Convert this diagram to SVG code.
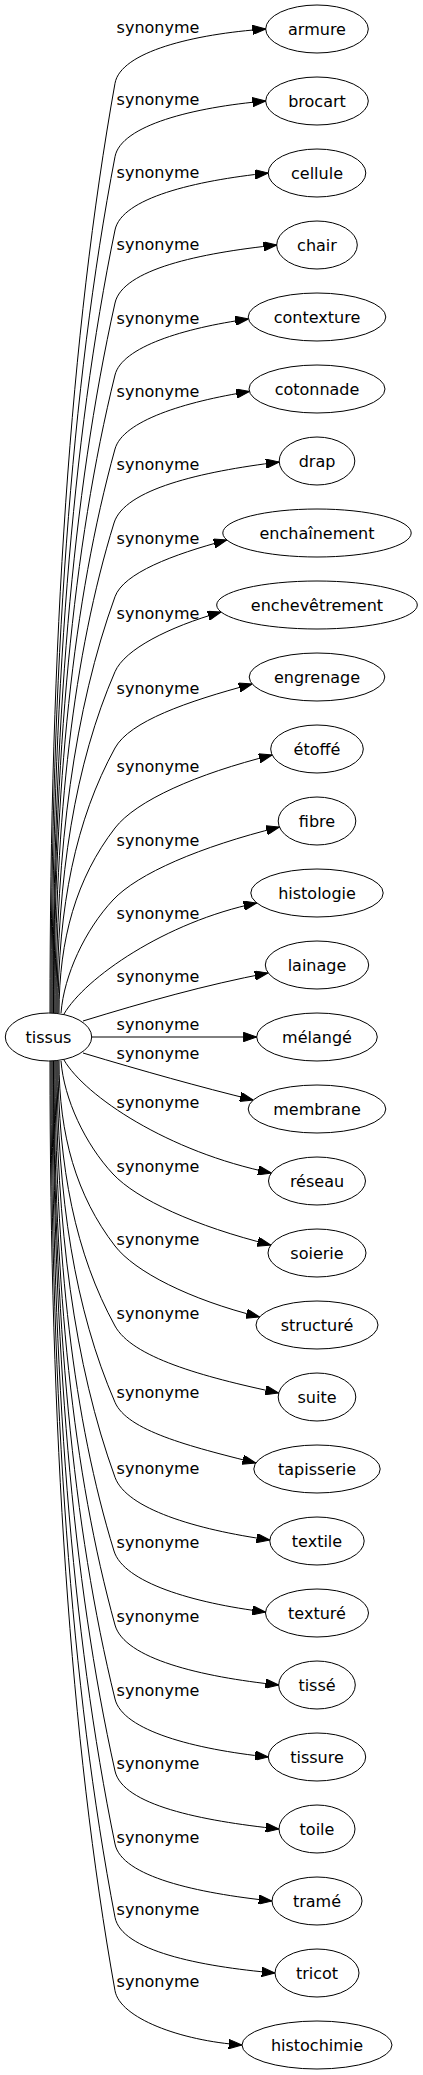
<svg xmlns="http://www.w3.org/2000/svg" width="423" height="2075" viewBox="0 0 423 2075">
<style>
.n ellipse{fill:none;stroke:#000;stroke-width:1}
text{font-family:"DejaVu Sans","Liberation Sans",sans-serif;font-size:16px;fill:#000;text-anchor:middle}
.e path{fill:none;stroke:#000;stroke-width:1;marker-end:url(#ah)}
</style>
<defs>
<marker id="ah" viewBox="0 0 13.3 9.4" refX="13.3" refY="4.7" markerWidth="13.3" markerHeight="9.4" markerUnits="userSpaceOnUse" orient="auto">
<polygon points="0,0 13.3,4.7 0,9.4" fill="#000" stroke="#000" stroke-width="1"/>
</marker>
</defs>
<rect width="423" height="2075" fill="#fff"/>
<g id="edges" class="e">
<path d="M50,1013 C50,641.1 70.2,334.3 115,83.3 C120.6,51.8 193.8,34 265.7,29"/>
<path d="M51,1013 C51,670.5 70.8,387.9 115,156.7 C121,125.2 193.7,107.3 265.7,101"/>
<path d="M52,1013 C52,699.8 71.5,441.4 115,230 C121.6,198 195,180.7 268.2,173"/>
<path d="M53,1013 C53,729 72.2,494.7 115,303 C122.5,269.4 199.8,253.1 276.7,245"/>
<path d="M53.5,1013 C53.5,757.8 72.6,547.3 115,375 C121.9,346.9 183.9,328.1 248.4,319"/>
<path d="M54,1013 C54,787.4 72.9,601.3 115,449 C122.8,420.9 184.4,401.8 249.4,391.5"/>
<path d="M55,1013 C55,817 73.3,655.3 114,523 C124.3,489.3 200.6,471.7 279.2,462"/>
<path d="M56,1013 C56,846.5 74.3,709.1 115,596.7 C123.6,573.1 172.4,554.6 226.9,540"/>
<path d="M57,1013 C57,876.5 75,763.9 115,671.7 C124.7,649.4 168.4,627.1 221.1,612"/>
<path d="M58,1013 C58,907 75.7,819.6 115,748 C129.6,721.5 186.3,701.6 252.1,684"/>
<path d="M59,1013 C59,939 76.4,878 115,828 C136.2,800.6 196.5,773.9 272.2,755"/>
<path d="M61,1013 C64,975 85,930 113,900 C137.8,873.4 200,846.8 279.4,827"/>
<path d="M64,1014 C85,978 165,922 256.8,903"/>
<path d="M83,1021 C145,1002 205,985 268,973"/>
<path d="M91.7,1037 L256.7,1037"/>
<path d="M83,1053 C143,1071 200,1087 253.2,1100"/>
<path d="M64,1060 C85,1096 168,1152 271.3,1173"/>
<path d="M61,1061 C64,1099 85,1144 113,1174 C136.6,1199.3 195.2,1226.2 270.8,1245"/>
<path d="M59,1061 C59,1135 76.4,1196 115,1246 C134.7,1271.5 189.2,1299.5 259.5,1317"/>
<path d="M58,1061 C58,1167 75.7,1254.4 115,1326 C132,1357 200.8,1376.5 278.7,1393"/>
<path d="M57,1061 C57,1197.5 75,1310.1 115,1402.3 C127.2,1430.5 188.8,1446.3 255.8,1463"/>
<path d="M56,1061 C56,1227.5 74.3,1364.9 115,1477.3 C126.4,1508.7 195.3,1529.5 269.8,1540"/>
<path d="M55,1061 C55,1257 73.3,1418.7 114,1551 C123.6,1582.3 192.6,1603 265.6,1612"/>
<path d="M54,1061 C54,1286.6 72.9,1472.7 115,1625 C124.3,1658.6 200.7,1676.8 278.7,1685"/>
<path d="M53.5,1061 C53.5,1316.2 72.6,1526.7 115,1699 C122.8,1730.8 194.9,1749.3 268.3,1757"/>
<path d="M53,1061 C53,1345 72.2,1579.3 115,1771 C122.6,1805 201.1,1820.8 279,1829"/>
<path d="M52,1061 C52,1374.2 71.5,1632.6 115,1844 C121.7,1876.7 197.2,1893.1 272,1901"/>
<path d="M51,1061 C51,1403.5 70.8,1686.1 115,1917.3 C121.4,1950.6 199.1,1966.4 275,1973"/>
<path d="M50,1061 C50,1432.9 70.2,1739.7 115,1990.7 C119.9,2017.9 180,2040.7 242,2045"/>
<g id="edge-labels">
<text x="158" y="33.4">synonyme</text>
<text x="158" y="105.1">synonyme</text>
<text x="158" y="177.7">synonyme</text>
<text x="158" y="250.4">synonyme</text>
<text x="158" y="323.7">synonyme</text>
<text x="158" y="397.1">synonyme</text>
<text x="158" y="470.4">synonyme</text>
<text x="158" y="543.7">synonyme</text>
<text x="158" y="618.7">synonyme</text>
<text x="158" y="694.4">synonyme</text>
<text x="158" y="771.7">synonyme</text>
<text x="158" y="846.1">synonyme</text>
<text x="158" y="919.4">synonyme</text>
<text x="158" y="982.1">synonyme</text>
<text x="158" y="1030.4">synonyme</text>
<text x="158" y="1058.7">synonyme</text>
<text x="158" y="1107.7">synonyme</text>
<text x="158" y="1171.7">synonyme</text>
<text x="158" y="1245.1">synonyme</text>
<text x="158" y="1319.4">synonyme</text>
<text x="158" y="1397.7">synonyme</text>
<text x="158" y="1473.7">synonyme</text>
<text x="158" y="1547.7">synonyme</text>
<text x="158" y="1621.7">synonyme</text>
<text x="158" y="1696.1">synonyme</text>
<text x="158" y="1769.4">synonyme</text>
<text x="158" y="1842.7">synonyme</text>
<text x="158" y="1915.4">synonyme</text>
<text x="158" y="1987.1">synonyme</text>
</g>
</g>
<g id="tissus" class="n"><ellipse cx="48.5" cy="1037" rx="43.2" ry="24"/><text x="48.5" y="1042.6">tissus</text></g>
<g id="armure" class="n"><ellipse cx="317" cy="29" rx="51.3" ry="24"/><text x="317" y="34.6">armure</text></g>
<g id="brocart" class="n"><ellipse cx="317" cy="101" rx="51.3" ry="24"/><text x="317" y="106.6">brocart</text></g>
<g id="cellule" class="n"><ellipse cx="317" cy="173" rx="48.8" ry="24"/><text x="317" y="178.6">cellule</text></g>
<g id="chair" class="n"><ellipse cx="317" cy="245" rx="40.3" ry="24"/><text x="317" y="250.6">chair</text></g>
<g id="contexture" class="n"><ellipse cx="317" cy="317" rx="68.8" ry="24"/><text x="317" y="322.6">contexture</text></g>
<g id="cotonnade" class="n"><ellipse cx="317" cy="389" rx="68" ry="24"/><text x="317" y="394.6">cotonnade</text></g>
<g id="drap" class="n"><ellipse cx="317" cy="461" rx="37.8" ry="24"/><text x="317" y="466.6">drap</text></g>
<g id="enchainement" class="n"><ellipse cx="317" cy="533" rx="94.2" ry="24"/><text x="317" y="538.6">enchaînement</text></g>
<g id="enchevetrement" class="n"><ellipse cx="317" cy="605" rx="100.3" ry="24"/><text x="317" y="610.6">enchevêtrement</text></g>
<g id="engrenage" class="n"><ellipse cx="317" cy="677" rx="67.8" ry="24"/><text x="317" y="682.6">engrenage</text></g>
<g id="etoffe" class="n"><ellipse cx="317" cy="749" rx="46.3" ry="24"/><text x="317" y="754.6">étoffé</text></g>
<g id="fibre" class="n"><ellipse cx="317" cy="821" rx="38.8" ry="24"/><text x="317" y="826.6">fibre</text></g>
<g id="histologie" class="n"><ellipse cx="317" cy="893" rx="66.2" ry="24"/><text x="317" y="898.6">histologie</text></g>
<g id="lainage" class="n"><ellipse cx="317" cy="965" rx="51.7" ry="24"/><text x="317" y="970.6">lainage</text></g>
<g id="melange" class="n"><ellipse cx="317" cy="1037" rx="60.3" ry="24"/><text x="317" y="1042.6">mélangé</text></g>
<g id="membrane" class="n"><ellipse cx="317" cy="1109" rx="68.8" ry="24"/><text x="317" y="1114.6">membrane</text></g>
<g id="reseau" class="n"><ellipse cx="317" cy="1181" rx="48.5" ry="24"/><text x="317" y="1186.6">réseau</text></g>
<g id="soierie" class="n"><ellipse cx="317" cy="1253" rx="49" ry="24"/><text x="317" y="1258.6">soierie</text></g>
<g id="structure" class="n"><ellipse cx="317" cy="1325" rx="61" ry="24"/><text x="317" y="1330.6">structuré</text></g>
<g id="suite" class="n"><ellipse cx="317" cy="1397" rx="38.8" ry="24"/><text x="317" y="1402.6">suite</text></g>
<g id="tapisserie" class="n"><ellipse cx="317" cy="1469" rx="63.2" ry="24"/><text x="317" y="1474.6">tapisserie</text></g>
<g id="textile" class="n"><ellipse cx="317" cy="1541" rx="47.2" ry="24"/><text x="317" y="1546.6">textile</text></g>
<g id="texture" class="n"><ellipse cx="317" cy="1613" rx="51.5" ry="24"/><text x="317" y="1618.6">texturé</text></g>
<g id="tisse" class="n"><ellipse cx="317" cy="1685" rx="38.3" ry="24"/><text x="317" y="1690.6">tissé</text></g>
<g id="tissure" class="n"><ellipse cx="317" cy="1757" rx="48.7" ry="24"/><text x="317" y="1762.6">tissure</text></g>
<g id="toile" class="n"><ellipse cx="317" cy="1829" rx="38" ry="24"/><text x="317" y="1834.6">toile</text></g>
<g id="trame" class="n"><ellipse cx="317" cy="1901" rx="45" ry="24"/><text x="317" y="1906.6">tramé</text></g>
<g id="tricot" class="n"><ellipse cx="317" cy="1973" rx="42" ry="24"/><text x="317" y="1978.6">tricot</text></g>
<g id="histochimie" class="n"><ellipse cx="317" cy="2045" rx="75" ry="24"/><text x="317" y="2050.6">histochimie</text></g>
</svg>
